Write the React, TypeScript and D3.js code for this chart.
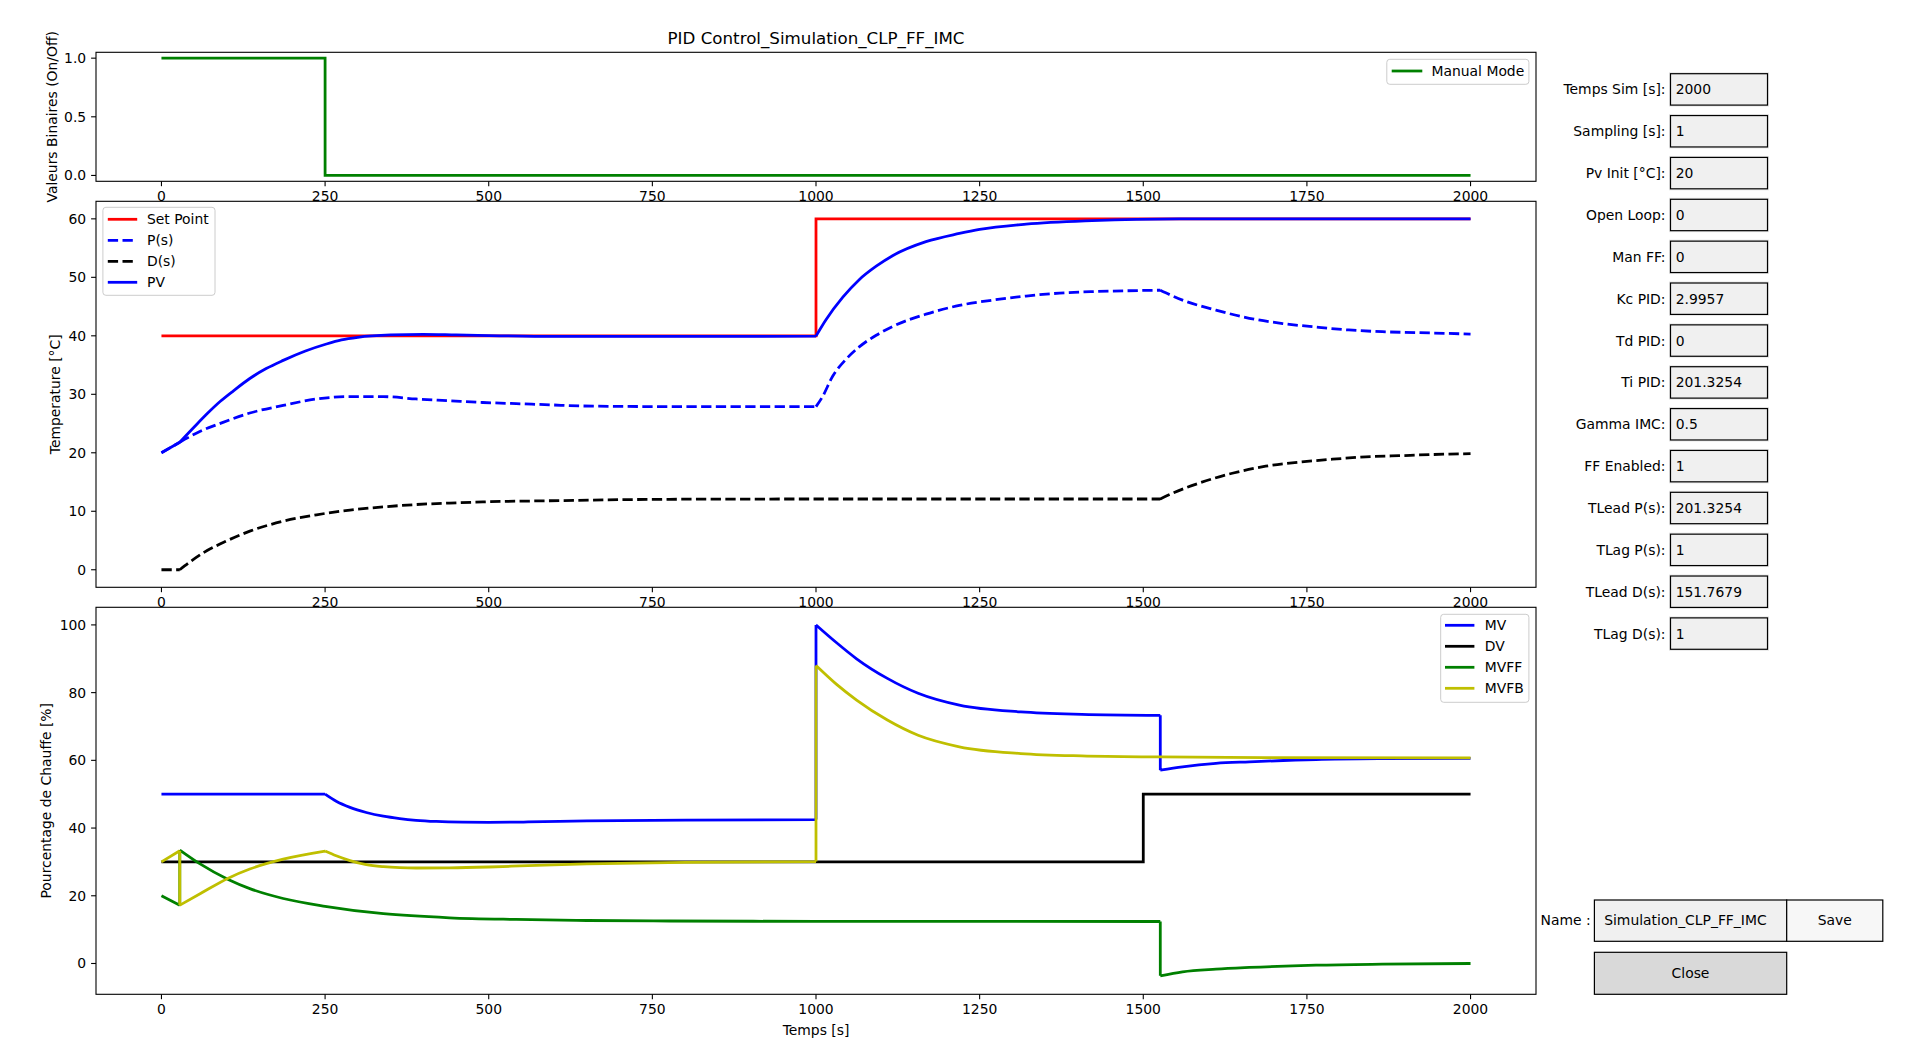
import React from 'react';
import * as d3 from 'd3';

// ---------- tick values ----------
const timeTicks = [0, 250, 500, 750, 1000, 1250, 1500, 1750, 2000];
const binTicks = [0, 0.5, 1.0];
const tempTicks = [0, 10, 20, 30, 40, 50, 60];
const pctTicks = [0, 20, 40, 60, 80, 100];

// ---------- top plot ----------
const tManual = [0, 250, 250, 2000];
const manualMode = [1, 1, 0, 0];

// ---------- middle plot ----------
const tSP = [0, 1000, 1000, 2000];
const setPoint = [40, 40, 60, 60];

const tPV = [0, 28, 50, 70, 90, 110, 135, 160, 186, 220, 252, 275, 300, 350, 400, 450, 500, 600, 800, 1000,
  1015, 1041, 1066, 1092, 1117, 1168, 1219, 1250, 1321, 1422, 1555, 2000];
const pv = [20, 21.8, 24.4, 26.7, 28.8, 30.6, 32.7, 34.4, 35.8, 37.4, 38.6, 39.3, 39.75, 40.15, 40.25, 40.15, 40.05, 39.9, 39.9, 39.95,
  42.7, 46.6, 49.6, 51.9, 53.7, 56.1, 57.5, 58.2, 59.1, 59.7, 60.0, 60.0];

const tPs = [0, 28, 54, 94, 135, 186, 237, 288, 339, 389, 440, 491, 542, 593, 644, 776, 1000,
  1010, 1025, 1046, 1066, 1092, 1117, 1168, 1219, 1270, 1321, 1372, 1422, 1473, 1526,
  1560, 1611, 1662, 1713, 1764, 1814, 1865, 1916, 2000];
const pS = [20, 21.8, 23.4, 25.2, 26.8, 28.1, 29.2, 29.6, 29.6, 29.2, 28.9, 28.6, 28.4, 28.2, 28.0, 27.9, 27.9,
  29.6, 33.0, 36.0, 38.1, 40.1, 41.6, 43.7, 45.2, 46.1, 46.8, 47.3, 47.55, 47.7, 47.8,
  46.1, 44.4, 43.0, 42.1, 41.5, 41.0, 40.7, 40.55, 40.3];

const tDs = [0, 28, 64, 99, 135, 186, 237, 288, 339, 389, 440, 491, 593, 776, 1000, 1526,
  1545, 1585, 1636, 1687, 1738, 1789, 1840, 1891, 1942, 2000];
const dS = [0, 0, 2.9, 4.9, 6.6, 8.3, 9.4, 10.2, 10.75, 11.15, 11.4, 11.6, 11.8, 12.05, 12.1, 12.1,
  13.1, 14.8, 16.5, 17.7, 18.4, 18.9, 19.3, 19.5, 19.7, 19.85];

// ---------- bottom plot ----------
const tMV = [0, 250, 267, 288, 313, 339, 364, 389, 420, 460, 500, 560, 650, 800, 1000, 1000,
  1031, 1062, 1109, 1156, 1219, 1313, 1406, 1526, 1526, 1560, 1611, 1662, 1764, 1865, 2000];
const mv = [50, 50, 47.9, 46.1, 44.6, 43.5, 42.8, 42.3, 41.95, 41.75, 41.7, 41.8, 42.1, 42.35, 42.5, 100,
  94.8, 90.0, 84.2, 79.8, 76.3, 74.3, 73.6, 73.3, 57.1, 58.1, 59.1, 59.55, 60.25, 60.5, 60.6];

const tDV = [0, 1500, 1500, 2000];
const dv = [30, 30, 50, 50];

const tMVFF = [0, 28, 28, 59, 102, 135, 186, 250, 339, 440, 542, 650, 776, 1000, 1526, 1526,
  1560, 1611, 1662, 1764, 1865, 2000];
const mvff = [20, 17.2, 33.5, 29.4, 24.8, 22.1, 19.2, 16.9, 14.7, 13.5, 13.0, 12.7, 12.55, 12.45, 12.4, -3.65,
  -2.47, -1.68, -1.18, -0.5, -0.2, 0.0];

const tMVFB = [0, 28, 28, 59, 102, 135, 186, 250, 267, 288, 313, 339, 364, 389, 440, 500, 560, 650, 800, 1000, 1000,
  1031, 1062, 1109, 1156, 1219, 1313, 1406, 1526, 1687, 2000];
const mvfb = [30, 33.3, 17.2, 20.6, 25.2, 27.9, 30.8, 33.2, 31.8, 30.4, 29.2, 28.6, 28.3, 28.2, 28.25, 28.5, 28.9, 29.4, 29.85, 30.1, 88,
  82.5, 77.8, 71.9, 67.4, 64.0, 62.0, 61.3, 61.0, 60.8, 60.7];

// ---------- side panel ----------
const paramLabels = ['Temps Sim [s]:', 'Sampling [s]:', 'Pv Init [°C]:', 'Open Loop:', 'Man FF:', 'Kc PID:', 'Td PID:',
  'Ti PID:', 'Gamma IMC:', 'FF Enabled:', 'TLead P(s):', 'TLag P(s):', 'TLead D(s):', 'TLag D(s):'];
const paramValues = ['2000', '1', '20', '0', '0', '2.9957', '0', '201.3254', '0.5', '1', '201.3254', '1', '151.7679', '1'];

const FONT = "'DejaVu Sans', sans-serif";
const FS = 13.9;
const X0 = 96, X1 = 1536;

const x = d3.scaleLinear().domain([-100, 2100]).range([X0, X1]);
const yTop = d3.scaleLinear().domain([-0.05, 1.05]).range([181.3, 52.3]);
const yMid = d3.scaleLinear().domain([-3, 63]).range([587.3, 201.3]);
const yBot = d3.scaleLinear().domain([-9.1, 105.2]).range([994.3, 607.3]);

type Sc = d3.ScaleLinear<number, number>;

function buildPath(ts: number[], vs: number[], ys: Sc, kinks: number[], linear = false): string {
  const pts: [number, number][] = ts.map((t, i) => [t, vs[i]]);
  const smooth = d3.line<[number, number]>().x(d => x(d[0])).y(d => ys(d[1])).curve(d3.curveMonotoneX);
  const lin = d3.line<[number, number]>().x(d => x(d[0])).y(d => ys(d[1]));
  if (linear) return lin(pts) || '';
  const segs: [number, number][][] = [];
  let cur: [number, number][] = [pts[0]];
  for (let i = 1; i < pts.length; i++) {
    if (pts[i][0] === pts[i - 1][0]) {
      segs.push(cur);
      segs.push([pts[i - 1], pts[i]]);
      cur = [pts[i]];
      continue;
    }
    cur.push(pts[i]);
    if (kinks.includes(pts[i][0]) && i < pts.length - 1) {
      segs.push(cur);
      cur = [pts[i]];
    }
  }
  segs.push(cur);
  return segs.filter(s => s.length > 1).map(s => (s.length === 2 ? lin(s) : smooth(s)) || '').join('');
}

function Axes({ ys, ticks, fmt, top, bottom }: { ys: Sc; ticks: number[]; fmt: (v: number) => string; top: number; bottom: number }) {
  return (
    <g>
      <rect x={X0} y={top} width={X1 - X0} height={bottom - top} fill="white" stroke="none" />
      {timeTicks.map(t => (
        <g key={'x' + t}>
          <line x1={x(t)} x2={x(t)} y1={bottom} y2={bottom + 4.9} stroke="black" strokeWidth={1.1} />
          <text x={x(t)} y={bottom + 20} textAnchor="middle" fontFamily={FONT} fontSize={FS}>{t}</text>
        </g>
      ))}
      {ticks.map(v => (
        <g key={'y' + v}>
          <line x1={X0 - 4.9} x2={X0} y1={ys(v)} y2={ys(v)} stroke="black" strokeWidth={1.1} />
          <text x={X0 - 9.8} y={ys(v) + 5} textAnchor="end" fontFamily={FONT} fontSize={FS}>{fmt(v)}</text>
        </g>
      ))}
    </g>
  );
}

function Frame({ top, bottom }: { top: number; bottom: number }) {
  return <rect x={X0} y={top} width={X1 - X0} height={bottom - top} fill="none" stroke="black" strokeWidth={1.1} />;
}

type Entry = { label: string; color: string; dash?: string; width: number };
function Legend({ x0, y0, w, h, rows, lx0, lx1, tx, entries }: { x0: number; y0: number; w: number; h: number; rows: number[]; lx0: number; lx1: number; tx: number; entries: Entry[] }) {
  return (
    <g>
      <rect x={x0} y={y0} width={w} height={h} rx={3} fill="white" fillOpacity={0.8} stroke="#cccccc" strokeWidth={1} />
      {entries.map((e, i) => (
        <g key={e.label}>
          <line x1={lx0} x2={lx1} y1={rows[i]} y2={rows[i]} stroke={e.color} strokeWidth={e.width} strokeDasharray={e.dash} />
          <text x={tx} y={rows[i] + 5} fontFamily={FONT} fontSize={FS}>{e.label}</text>
        </g>
      ))}
    </g>
  );
}

const LW = 2.78;
const DASH = '10.3,4.4';

export default function App() {
  const topB = [52.3, 181.3];
  const midB = [201.3, 587.3];
  const botB = [607.3, 994.3];
  return (
    <svg width={1920} height={1046} style={{ position: 'absolute', left: 0, top: 0, display: 'block' }}>
      <rect x={0} y={0} width={1920} height={1046} fill="white" />
      <text x={816} y={44} textAnchor="middle" fontFamily={FONT} fontSize={16.7}>PID Control_Simulation_CLP_FF_IMC</text>

      {/* top plot */}
      <Axes ys={yTop} ticks={binTicks} fmt={v => v.toFixed(1)} top={topB[0]} bottom={topB[1]} />
      <path d={buildPath(tManual, manualMode, yTop, [], true)} fill="none" stroke="#008000" strokeWidth={LW} />
      <Frame top={topB[0]} bottom={topB[1]} />
      <Legend x0={1386.8} y0={59.3} w={142.1} h={25} rows={[71]} lx0={1391.7} lx1={1422.3} tx={1431.5}
        entries={[{ label: 'Manual Mode', color: '#008000', width: LW }]} />
      <text transform={`translate(57,${(topB[0] + topB[1]) / 2}) rotate(-90)`} textAnchor="middle" fontFamily={FONT} fontSize={FS}>Valeurs Binaires (On/Off)</text>

      {/* middle plot */}
      <Axes ys={yMid} ticks={tempTicks} fmt={v => String(v)} top={midB[0]} bottom={midB[1]} />
      <path d={buildPath(tSP, setPoint, yMid, [], true)} fill="none" stroke="#ff0000" strokeWidth={LW} />
      <path d={buildPath(tPs, pS, yMid, [28, 1000, 1526])} fill="none" stroke="#0000ff" strokeWidth={LW} strokeDasharray={DASH} />
      <path d={buildPath(tDs, dS, yMid, [28, 1526])} fill="none" stroke="#000000" strokeWidth={LW} strokeDasharray={DASH} />
      <path d={buildPath(tPV, pv, yMid, [28, 1000])} fill="none" stroke="#0000ff" strokeWidth={LW} />
      <Frame top={midB[0]} bottom={midB[1]} />
      <Legend x0={102.9} y0={207.3} w={112.1} h={88} rows={[219.3, 240.3, 261.3, 282.3]} lx0={107.8} lx1={137.2} tx={147}
        entries={[
          { label: 'Set Point', color: '#ff0000', width: LW },
          { label: 'P(s)', color: '#0000ff', dash: DASH, width: LW },
          { label: 'D(s)', color: '#000000', dash: DASH, width: LW },
          { label: 'PV', color: '#0000ff', width: LW },
        ]} />
      <text transform={`translate(60,${(midB[0] + midB[1]) / 2}) rotate(-90)`} textAnchor="middle" fontFamily={FONT} fontSize={FS}>Temperature [°C]</text>

      {/* bottom plot */}
      <Axes ys={yBot} ticks={pctTicks} fmt={v => String(v)} top={botB[0]} bottom={botB[1]} />
      <path d={buildPath(tMV, mv, yBot, [250, 1000])} fill="none" stroke="#0000ff" strokeWidth={LW} />
      <path d={buildPath(tDV, dv, yBot, [], true)} fill="none" stroke="#000000" strokeWidth={LW} />
      <path d={buildPath(tMVFF, mvff, yBot, [])} fill="none" stroke="#008000" strokeWidth={LW} />
      <path d={buildPath(tMVFB, mvfb, yBot, [250])} fill="none" stroke="#bfbf00" strokeWidth={LW} />
      <Frame top={botB[0]} bottom={botB[1]} />
      <Legend x0={1440.7} y0={614.3} w={88.2} h={88} rows={[625.3, 646.3, 667.3, 688.3]} lx0={1445} lx1={1474.4} tx={1484.8}
        entries={[
          { label: 'MV', color: '#0000ff', width: LW },
          { label: 'DV', color: '#000000', width: LW },
          { label: 'MVFF', color: '#008000', width: LW },
          { label: 'MVFB', color: '#bfbf00', width: LW },
        ]} />
      <text transform={`translate(51,${(botB[0] + botB[1]) / 2}) rotate(-90)`} textAnchor="middle" fontFamily={FONT} fontSize={FS}>Pourcentage de Chauffe [%]</text>
      <text x={816} y={1035} textAnchor="middle" fontFamily={FONT} fontSize={FS}>Temps [s]</text>

      {/* side panel */}
      {paramLabels.map((lab, i) => {
        const top = 73.7 + i * 41.86;
        return (
          <g key={lab}>
            <text x={1665.5} y={top + 15.7 + 5} textAnchor="end" fontFamily={FONT} fontSize={FS}>{lab}</text>
            <rect x={1669.5} y={top - 1} width={99} height={33.4} fill="none" stroke="#e6e6e6" strokeWidth={1} />
            <rect x={1670.5} y={top} width={97} height={31.4} fill="#f0f0f0" stroke="black" strokeWidth={1.2} />
            <text x={1675.7} y={top + 15.7 + 5} fontFamily={FONT} fontSize={FS}>{paramValues[i]}</text>
          </g>
        );
      })}
      <text x={1590.7} y={925} textAnchor="end" fontFamily={FONT} fontSize={FS}>Name :</text>
      <rect x={1594.4} y={900} width={192.3} height={41.3} fill="#f0f0f0" stroke="black" strokeWidth={1.2} />
      <text x={1604.2} y={925} fontFamily={FONT} fontSize={FS}>Simulation_CLP_FF_IMC</text>
      <rect x={1786.7} y={900} width={96.1} height={41.3} fill="#f7f7f7" stroke="black" strokeWidth={1.2} />
      <text x={1834.7} y={925} textAnchor="middle" fontFamily={FONT} fontSize={FS}>Save</text>
      <rect x={1594.4} y={952.3} width={192.3} height={42} fill="#d9d9d9" stroke="black" strokeWidth={1.2} />
      <text x={1690.5} y={978} textAnchor="middle" fontFamily={FONT} fontSize={FS}>Close</text>
    </svg>
  );
}
